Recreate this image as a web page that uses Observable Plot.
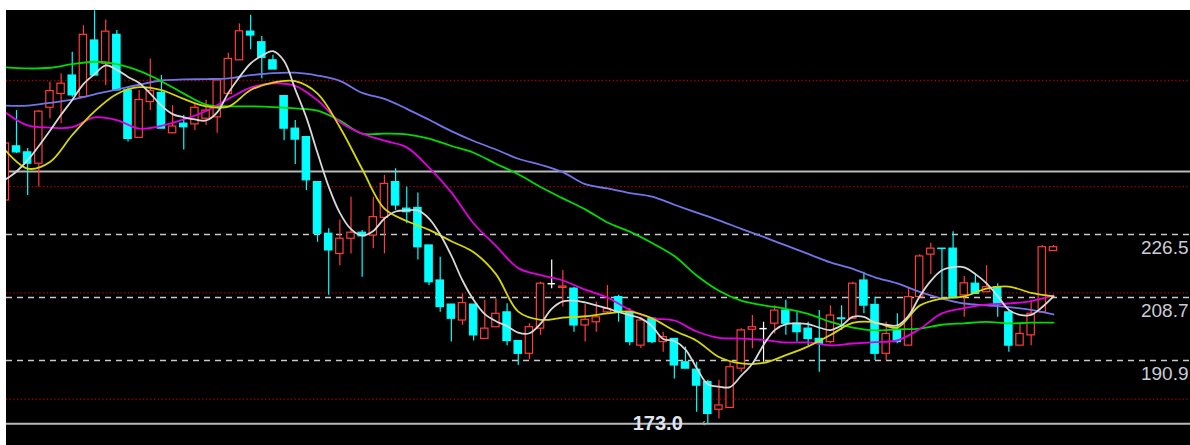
<!DOCTYPE html>
<html><head><meta charset="utf-8">
<script src="https://cdn.jsdelivr.net/npm/d3@7"></script>
<script src="https://cdn.jsdelivr.net/npm/@observablehq/plot@0.6"></script>
<style>
html,body{margin:0;padding:0;background:#fff;overflow:hidden;}
#chart{position:absolute;left:6px;top:10px;}
</style></head><body><div id="chart"></div>
<script>
// OHLC per bar (bar index = array index)
const open = [236.1,251.4,249.7,246.5,262.3,266.2,271.4,265.3,281.3,274.7,
282.9,267.2,253.8,263.9,266.5,255.1,257.8,257.6,259.2,259.6,
266.2,275.7,283.8,280.8,275.7,265.6,256.4,254.0,241.3,226.7,
221.0,225.3,227.0,226.2,231.2,241.3,233.8,234.0,223.4,213.5,
206.7,202.2,206.7,197.0,200.3,204.5,196.4,192.8,199.9,212.6,
211.4,211.2,200.8,201.7,204.5,208.8,204.5,195.1,202.7,196.1,
197.0,190.4,188.3,184.8,177.0,177.5,188.6,199.6,199.9,201.3,
205.0,201.3,199.9,197.0,196.1,202.8,202.7,213.5,206.6,192.8,
199.4,195.1,208.8,220.8,222.5,222.5,209.3,212.6,210.2,211.6,
204.5,195.1,198.0,204.5,221.8];
const high = [253.1,261.5,250.8,261.5,269.5,271.9,278.0,285.5,289.7,287.1,
284.1,267.9,267.2,276.1,271.4,262.9,260.1,263.4,264.4,270.0,
277.7,286.0,288.4,282.4,277.1,265.6,258.7,254.2,241.3,228.1,
230.5,237.0,227.6,237.0,243.2,245.1,239.9,238.2,223.4,220.1,
206.7,209.7,206.7,207.9,208.3,206.9,196.4,201.3,213.0,219.3,
216.3,211.6,206.7,207.4,212.1,209.3,205.5,202.7,202.7,198.9,
197.0,194.7,190.4,185.3,185.3,190.4,199.9,203.6,201.7,206.4,
207.9,204.5,201.7,205.0,206.4,206.4,213.0,215.8,208.8,201.7,
204.1,211.6,220.8,224.0,222.5,227.3,214.6,215.4,217.7,212.6,
205.0,201.3,207.9,223.4,223.4];
const low = [235.3,249.4,237.5,239.9,259.2,257.8,265.3,265.3,271.4,268.6,
267.2,252.6,253.8,261.5,256.4,254.9,250.4,255.9,257.3,255.1,
266.2,275.7,278.7,270.5,273.1,253.0,246.3,238.9,224.3,209.3,
217.7,221.0,214.4,222.5,221.0,233.3,229.5,219.3,212.1,204.5,
196.1,200.8,196.4,197.0,200.3,195.1,189.5,191.1,198.0,211.2,
206.0,198.9,196.1,198.9,204.1,201.7,195.1,194.2,195.6,193.2,
185.7,188.6,176.3,173.0,174.4,177.5,187.6,194.2,190.4,198.4,
198.0,196.1,195.1,187.6,195.6,199.4,202.7,204.1,190.9,190.9,
195.6,195.1,208.8,215.2,208.8,208.8,203.1,209.7,210.2,203.1,
193.2,195.1,195.1,204.5,221.8];
const close = [252.2,249.7,246.5,261.2,267.0,269.1,265.8,282.9,271.4,283.8,
267.2,253.5,264.5,267.0,256.4,257.0,256.8,262.3,261.5,270.0,
276.1,283.9,282.7,276.4,273.1,256.4,253.3,241.8,226.7,222.0,
225.3,227.0,226.0,231.4,240.8,234.7,232.8,222.9,213.0,206.0,
202.7,207.1,198.0,199.9,204.1,196.4,192.8,200.3,212.6,212.6,
211.8,200.8,202.4,203.1,205.5,204.5,196.1,202.2,196.1,197.5,
189.5,188.6,183.8,175.8,178.2,189.0,199.4,200.3,199.9,205.0,
201.3,198.9,197.0,195.6,203.6,202.6,212.6,206.4,192.8,198.4,
196.1,208.8,220.3,222.5,222.4,208.8,212.7,209.7,211.6,206.7,
195.1,198.4,204.1,222.9,222.9];

// Moving averages
const ma5 = [242.0,244.3,247.5,251.5,255.8,260.3,264.5,269.0,271.8,274.3,
273.0,271.0,269.3,266.3,262.9,260.5,259.6,259.0,258.7,261.0,
266.5,271.0,274.8,277.0,278.3,275.5,267.5,259.5,249.5,240.0,
232.6,228.0,226.2,227.5,231.0,233.0,233.3,233.3,231.0,226.5,
220.5,213.5,208.0,204.0,202.0,200.6,198.8,198.6,201.3,205.5,
207.6,207.8,207.3,206.5,205.6,204.6,203.7,202.8,200.6,197.0,
196.4,194.0,188.8,184.2,183.5,183.4,186.6,190.0,195.3,199.5,
201.2,201.4,201.2,200.2,199.5,200.8,203.2,203.2,201.6,201.0,
200.8,203.5,209.0,213.4,216.4,217.3,217.2,215.3,212.7,209.1,
205.2,203.8,203.8,206.0,209.0];
// slower averages, read at every second bar (bars 0,2,4,...,94)
const ma10 = [250.3,245.1,247.0,254.6,261.3,266.2,268.1,267.3,264.8,262.7,
262.6,267.3,269.4,269.8,266.3,256.8,245.0,233.8,230.3,227.8,
224.6,221.5,215.3,204.7,202.4,203.0,203.4,204.2,204.7,202.8,
199.3,196.5,191.9,190.1,190.2,192.4,194.9,198.1,201.5,201.7,
200.2,206.4,208.4,209.0,211.2,211.8,210.0,209.0];
const ma20 = [261.0,257.3,256.7,256.8,259.6,258.8,256.4,257.2,259.0,261.4,
264.8,268.0,269.2,268.5,264.4,258.3,255.0,253.0,251.1,245.4,
238.4,229.6,223.3,217.0,215.0,213.5,210.9,208.7,205.2,202.9,
202.2,199.1,197.3,197.1,196.7,196.0,196.0,195.2,195.7,196.1,
196.6,199.8,204.2,205.7,206.7,207.0,207.7,209.3];
const ma30 = [273.7,273.4,273.6,274.6,275.3,274.6,272.7,269.8,266.3,263.2,
262.7,262.7,262.5,262.1,261.5,258.7,255.0,255.0,254.8,253.6,
251.5,249.6,246.5,243.5,239.9,236.7,233.6,229.9,227.3,224.1,
220.4,214.9,210.6,207.8,206.5,205.5,204.1,201.8,200.2,199.4,
199.7,199.9,201.0,201.4,201.8,201.4,201.6,201.6];
const ma60 = [262.9,262.9,263.7,264.6,266.1,267.4,268.8,270.0,270.3,270.4,
270.6,271.5,272.1,272.2,271.4,269.9,266.5,264.8,262.0,258.9,
255.7,252.9,250.5,247.9,246.2,244.1,240.7,239.5,238.2,237.2,
234.9,232.7,230.5,228.1,225.8,223.4,221.0,218.6,216.8,214.4,
212.7,210.3,208.4,207.0,206.5,206.0,205.2,203.9];

const axisLabels = [226.5, 208.7, 190.9];
const redGrid = [180, 210, 240, 270];
const levelLines = [244.3, 173.0];

const candles = open.map((o, i) => ({i, o, h: high[i], l: low[i], c: close[i]}));
const every2 = arr => arr.map((v, k) => ({i: k * 2, v}));
const every1 = arr => arr.map((v, k) => ({i: k, v}));

const UP = "#ff3c3c", DOWN = "#00ffff", FLAT = "#ffffff";
const col = d => d.c > d.o ? UP : d.c < d.o ? DOWN : FLAT;
const hw = 0.33;
const lowIdx = d3.minIndex(low);

const chart = Plot.plot({
  width: 1184, height: 435,
  marginTop: 0, marginBottom: 0, marginLeft: 0, marginRight: 0,
  style: {background: "#000", overflow: "hidden"},
  x: {type: "linear", domain: [0, 94], range: [-1.15, 1046.95], axis: null},
  y: {domain: [166.89, 289.775], axis: null},
  marks: [
    Plot.ruleY(redGrid, {stroke: "#b00000", strokeWidth: 1.3, strokeDasharray: "1.3,2.4"}),
    Plot.ruleY(axisLabels, {stroke: "#c8c8c8", strokeWidth: 1.6, strokeDasharray: "6,5"}),
    Plot.ruleY(levelLines, {stroke: "#b8b8b8", strokeWidth: 2}),
    Plot.text(axisLabels, {y: d => d, text: d => d.toFixed(1), frameAnchor: "right", textAnchor: "end", dx: -2, dy: 13,
      fill: "#c8ccd6", fontSize: 19, fontFamily: "Liberation Sans, Arial, sans-serif"}),
    Plot.ruleX(candles, {x: "i", y1: "l", y2: "h", stroke: col, strokeWidth: 1.2}),
    Plot.rect(candles.filter(d => d.c !== d.o), {x1: d => d.i - hw, x2: d => d.i + hw, y1: "o", y2: "c",
      fill: d => d.c > d.o ? "#000" : DOWN, stroke: col, strokeWidth: 1.2}),
    Plot.ruleY(candles.filter(d => d.c === d.o), {y: "o", x1: d => d.i - hw, x2: d => d.i + hw, stroke: FLAT, strokeWidth: 1.5}),
    Plot.line(every2(ma60), {x: "i", y: "v", stroke: "#7474e8", strokeWidth: 1.8, curve: "catmull-rom"}),
    Plot.line(every2(ma30), {x: "i", y: "v", stroke: "#00dc00", strokeWidth: 1.8, curve: "catmull-rom"}),
    Plot.line(every2(ma20), {x: "i", y: "v", stroke: "#e000e0", strokeWidth: 1.8, curve: "catmull-rom"}),
    Plot.line(every2(ma10), {x: "i", y: "v", stroke: "#d8d800", strokeWidth: 1.8, curve: "catmull-rom"}),
    Plot.line(every1(ma5), {x: "i", y: "v", stroke: "#d8d8d8", strokeWidth: 1.8, curve: "catmull-rom"}),
    Plot.text([lowIdx], {x: d => d, y: d => low[d], text: d => low[d].toFixed(1), textAnchor: "end", dx: -25,
      fill: "#dfe3ee", fontSize: 20, fontWeight: "bold", fontFamily: "Liberation Sans, Arial, sans-serif"}),
    Plot.text([lowIdx], {x: d => d, y: d => low[d], text: () => "‹", dx: -4, dy: -1, fill: "#b0b0b0", fontSize: 11})
  ]
});
document.getElementById("chart").append(chart);
</script></body></html>
